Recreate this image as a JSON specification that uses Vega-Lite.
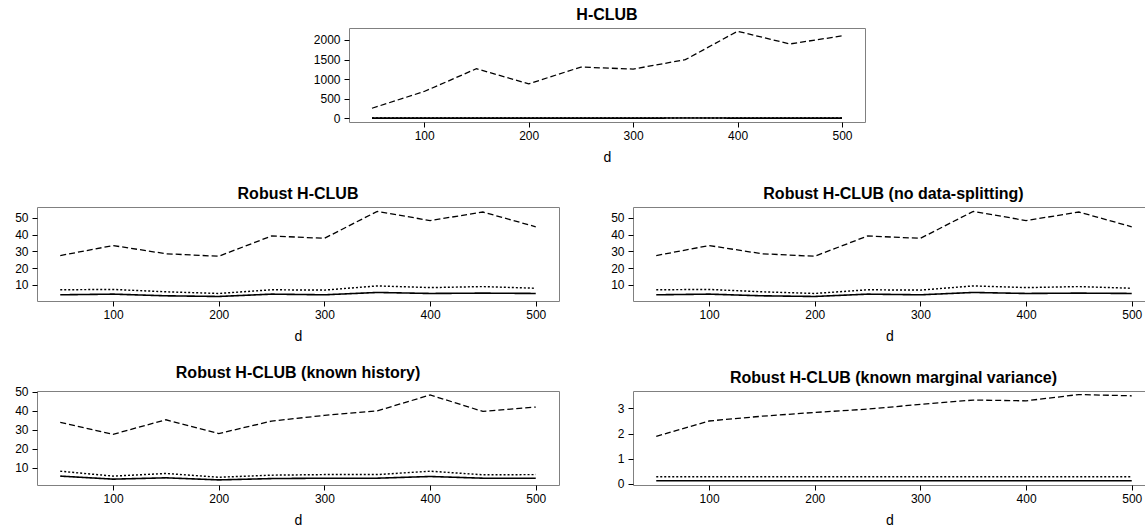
{
  "$schema": "https://vega.github.io/schema/vega-lite/v6.json",
  "padding": {"left": 0, "top": 6, "right": 0, "bottom": 0},
  "background": "white",
  "config": {
    "font": "Liberation Sans",
    "view": {"stroke": "#808080", "strokeWidth": 1},
    "axis": {"domain": false, "grid": false, "tickColor": "#000", "tickSize": 5, "labelFontSize": 12, "labelColor": "#000", "titleFontSize": 14, "titleFontWeight": "normal", "titleColor": "#000", "labelFont": "Liberation Sans", "titleFont": "Liberation Sans"},
    "axisX": {"labelPadding": 3, "titlePadding": 9},
    "axisY": {"labelPadding": 4, "minExtent": 36, "maxExtent": 36},
    "title": {"fontSize": 16, "fontWeight": "bold", "color": "#000", "offset": 5, "font": "Liberation Sans", "frame": "group"},
    "line": {"color": "#000"}
  },
  "datasets": {
    "hclub": [
      {"d": 50, "line": "dashed", "value": 256}, {"d": 100, "line": "dashed", "value": 684}, {"d": 150, "line": "dashed", "value": 1265}, {"d": 200, "line": "dashed", "value": 880}, {"d": 250, "line": "dashed", "value": 1308}, {"d": 300, "line": "dashed", "value": 1256}, {"d": 350, "line": "dashed", "value": 1496}, {"d": 400, "line": "dashed", "value": 2222}, {"d": 450, "line": "dashed", "value": 1897}, {"d": 500, "line": "dashed", "value": 2103},
      {"d": 50, "line": "dotted", "value": 8}, {"d": 100, "line": "dotted", "value": 8}, {"d": 150, "line": "dotted", "value": 7}, {"d": 200, "line": "dotted", "value": 6}, {"d": 250, "line": "dotted", "value": 8}, {"d": 300, "line": "dotted", "value": 8}, {"d": 350, "line": "dotted", "value": 10}, {"d": 400, "line": "dotted", "value": 9}, {"d": 450, "line": "dotted", "value": 10}, {"d": 500, "line": "dotted", "value": 9},
      {"d": 50, "line": "solid", "value": 4}, {"d": 100, "line": "solid", "value": 5}, {"d": 150, "line": "solid", "value": 4}, {"d": 200, "line": "solid", "value": 3}, {"d": 250, "line": "solid", "value": 5}, {"d": 300, "line": "solid", "value": 4}, {"d": 350, "line": "solid", "value": 6}, {"d": 400, "line": "solid", "value": 5}, {"d": 450, "line": "solid", "value": 5}, {"d": 500, "line": "solid", "value": 5}
    ],
    "robust": [
      {"d": 50, "line": "dashed", "value": 27.5}, {"d": 100, "line": "dashed", "value": 33.5}, {"d": 150, "line": "dashed", "value": 28.6}, {"d": 200, "line": "dashed", "value": 27.1}, {"d": 250, "line": "dashed", "value": 39.2}, {"d": 300, "line": "dashed", "value": 37.8}, {"d": 350, "line": "dashed", "value": 53.9}, {"d": 400, "line": "dashed", "value": 48.4}, {"d": 450, "line": "dashed", "value": 53.5}, {"d": 500, "line": "dashed", "value": 44.7},
      {"d": 50, "line": "dotted", "value": 7.1}, {"d": 100, "line": "dotted", "value": 7.3}, {"d": 150, "line": "dotted", "value": 5.9}, {"d": 200, "line": "dotted", "value": 4.9}, {"d": 250, "line": "dotted", "value": 7.1}, {"d": 300, "line": "dotted", "value": 6.9}, {"d": 350, "line": "dotted", "value": 9.4}, {"d": 400, "line": "dotted", "value": 8.4}, {"d": 450, "line": "dotted", "value": 9.0}, {"d": 500, "line": "dotted", "value": 8.0},
      {"d": 50, "line": "solid", "value": 4.1}, {"d": 100, "line": "solid", "value": 4.5}, {"d": 150, "line": "solid", "value": 3.5}, {"d": 200, "line": "solid", "value": 3.1}, {"d": 250, "line": "solid", "value": 4.5}, {"d": 300, "line": "solid", "value": 4.1}, {"d": 350, "line": "solid", "value": 5.5}, {"d": 400, "line": "solid", "value": 4.9}, {"d": 450, "line": "solid", "value": 5.1}, {"d": 500, "line": "solid", "value": 4.9}
    ],
    "nosplit": [
      {"d": 50, "line": "dashed", "value": 27.5}, {"d": 100, "line": "dashed", "value": 33.5}, {"d": 150, "line": "dashed", "value": 28.6}, {"d": 200, "line": "dashed", "value": 27.1}, {"d": 250, "line": "dashed", "value": 39.2}, {"d": 300, "line": "dashed", "value": 37.8}, {"d": 350, "line": "dashed", "value": 53.9}, {"d": 400, "line": "dashed", "value": 48.4}, {"d": 450, "line": "dashed", "value": 53.5}, {"d": 500, "line": "dashed", "value": 44.7},
      {"d": 50, "line": "dotted", "value": 7.1}, {"d": 100, "line": "dotted", "value": 7.3}, {"d": 150, "line": "dotted", "value": 5.9}, {"d": 200, "line": "dotted", "value": 4.9}, {"d": 250, "line": "dotted", "value": 7.1}, {"d": 300, "line": "dotted", "value": 6.9}, {"d": 350, "line": "dotted", "value": 9.4}, {"d": 400, "line": "dotted", "value": 8.4}, {"d": 450, "line": "dotted", "value": 9.0}, {"d": 500, "line": "dotted", "value": 8.0},
      {"d": 50, "line": "solid", "value": 4.1}, {"d": 100, "line": "solid", "value": 4.5}, {"d": 150, "line": "solid", "value": 3.5}, {"d": 200, "line": "solid", "value": 3.1}, {"d": 250, "line": "solid", "value": 4.5}, {"d": 300, "line": "solid", "value": 4.1}, {"d": 350, "line": "solid", "value": 5.5}, {"d": 400, "line": "solid", "value": 4.9}, {"d": 450, "line": "solid", "value": 5.1}, {"d": 500, "line": "solid", "value": 4.9}
    ],
    "history": [
      {"d": 50, "line": "dashed", "value": 33.9}, {"d": 100, "line": "dashed", "value": 27.6}, {"d": 150, "line": "dashed", "value": 35.3}, {"d": 200, "line": "dashed", "value": 28.0}, {"d": 250, "line": "dashed", "value": 34.6}, {"d": 300, "line": "dashed", "value": 37.6}, {"d": 350, "line": "dashed", "value": 40.0}, {"d": 400, "line": "dashed", "value": 48.4}, {"d": 450, "line": "dashed", "value": 39.7}, {"d": 500, "line": "dashed", "value": 42.0},
      {"d": 50, "line": "dotted", "value": 8.1}, {"d": 100, "line": "dotted", "value": 5.5}, {"d": 150, "line": "dotted", "value": 6.9}, {"d": 200, "line": "dotted", "value": 4.9}, {"d": 250, "line": "dotted", "value": 6.0}, {"d": 300, "line": "dotted", "value": 6.3}, {"d": 350, "line": "dotted", "value": 6.3}, {"d": 400, "line": "dotted", "value": 8.1}, {"d": 450, "line": "dotted", "value": 6.2}, {"d": 500, "line": "dotted", "value": 6.3},
      {"d": 50, "line": "solid", "value": 5.5}, {"d": 100, "line": "solid", "value": 3.9}, {"d": 150, "line": "solid", "value": 4.6}, {"d": 200, "line": "solid", "value": 3.5}, {"d": 250, "line": "solid", "value": 4.2}, {"d": 300, "line": "solid", "value": 4.4}, {"d": 350, "line": "solid", "value": 4.4}, {"d": 400, "line": "solid", "value": 5.3}, {"d": 450, "line": "solid", "value": 4.4}, {"d": 500, "line": "solid", "value": 4.4}
    ],
    "marginal": [
      {"d": 50, "line": "dashed", "value": 1.89}, {"d": 100, "line": "dashed", "value": 2.5}, {"d": 150, "line": "dashed", "value": 2.69}, {"d": 200, "line": "dashed", "value": 2.84}, {"d": 250, "line": "dashed", "value": 2.97}, {"d": 300, "line": "dashed", "value": 3.16}, {"d": 350, "line": "dashed", "value": 3.33}, {"d": 400, "line": "dashed", "value": 3.3}, {"d": 450, "line": "dashed", "value": 3.55}, {"d": 500, "line": "dashed", "value": 3.5},
      {"d": 50, "line": "dotted", "value": 0.29}, {"d": 100, "line": "dotted", "value": 0.29}, {"d": 150, "line": "dotted", "value": 0.29}, {"d": 200, "line": "dotted", "value": 0.29}, {"d": 250, "line": "dotted", "value": 0.29}, {"d": 300, "line": "dotted", "value": 0.29}, {"d": 350, "line": "dotted", "value": 0.29}, {"d": 400, "line": "dotted", "value": 0.29}, {"d": 450, "line": "dotted", "value": 0.29}, {"d": 500, "line": "dotted", "value": 0.29},
      {"d": 50, "line": "solid", "value": 0.13}, {"d": 100, "line": "solid", "value": 0.13}, {"d": 150, "line": "solid", "value": 0.13}, {"d": 200, "line": "solid", "value": 0.13}, {"d": 250, "line": "solid", "value": 0.13}, {"d": 300, "line": "solid", "value": 0.13}, {"d": 350, "line": "solid", "value": 0.13}, {"d": 400, "line": "solid", "value": 0.13}, {"d": 450, "line": "solid", "value": 0.13}, {"d": 500, "line": "solid", "value": 0.13}
    ]
  },
  "spacing": 20,
  "vconcat": [
    {
      "spacing": 0,
      "hconcat": [
        {
          "width": 275, "height": 94,
          "data": {"values": []},
          "mark": {"type": "point", "opacity": 0},
          "view": {"stroke": null}
        },
        {
          "title": "H-CLUB",
          "width": 516, "height": 94,
          "data": {"name": "hclub"},
          "mark": {"type": "line"},
          "encoding": {
            "x": {"field": "d", "type": "quantitative", "scale": {"domain": [28, 522], "nice": false, "zero": false}, "axis": {"title": "d", "values": [100, 200, 300, 400, 500]}},
            "y": {"field": "value", "type": "quantitative", "scale": {"domain": [-95, 2305], "nice": false, "zero": false}, "axis": {"title": null, "format": "d", "values": [0, 500, 1000, 1500, 2000]}},
            "strokeDash": {"field": "line", "type": "nominal", "scale": {"domain": ["solid", "dotted", "dashed"], "range": [[1, 0], [2, 2], [6, 3]]}, "legend": null},
            "strokeWidth": {"field": "line", "type": "nominal", "scale": {"domain": ["solid", "dotted", "dashed"], "range": [1.6, 1.3, 1.2]}, "legend": null}
          }
        }
      ]
    },
    {
      "spacing": 36,
      "hconcat": [
        {
          "title": "Robust H-CLUB",
          "width": 522, "height": 94,
          "data": {"name": "robust"},
          "mark": {"type": "line"},
          "encoding": {
            "x": {"field": "d", "type": "quantitative", "scale": {"domain": [28, 522], "nice": false, "zero": false}, "axis": {"title": "d", "values": [100, 200, 300, 400, 500]}},
            "y": {"field": "value", "type": "quantitative", "scale": {"domain": [0.4, 56.5], "nice": false, "zero": false}, "axis": {"title": null, "values": [10, 20, 30, 40, 50]}},
            "strokeDash": {"field": "line", "type": "nominal", "scale": {"domain": ["solid", "dotted", "dashed"], "range": [[1, 0], [2, 2], [6, 3]]}, "legend": null},
            "strokeWidth": {"field": "line", "type": "nominal", "scale": {"domain": ["solid", "dotted", "dashed"], "range": [1.6, 1.3, 1.2]}, "legend": null}
          }
        },
        {
          "title": {"text": "Robust H-CLUB (no data-splitting)", "dx": 4},
          "width": 513, "height": 94,
          "data": {"name": "nosplit"},
          "mark": {"type": "line"},
          "encoding": {
            "x": {"field": "d", "type": "quantitative", "scale": {"domain": [28, 513.5], "nice": false, "zero": false}, "axis": {"title": "d", "values": [100, 200, 300, 400, 500]}},
            "y": {"field": "value", "type": "quantitative", "scale": {"domain": [0.4, 56.5], "nice": false, "zero": false}, "axis": {"title": null, "values": [10, 20, 30, 40, 50]}},
            "strokeDash": {"field": "line", "type": "nominal", "scale": {"domain": ["solid", "dotted", "dashed"], "range": [[1, 0], [2, 2], [6, 3]]}, "legend": null},
            "strokeWidth": {"field": "line", "type": "nominal", "scale": {"domain": ["solid", "dotted", "dashed"], "range": [1.6, 1.3, 1.2]}, "legend": null}
          }
        }
      ]
    },
    {
      "spacing": 36,
      "hconcat": [
        {
          "title": "Robust H-CLUB (known history)",
          "width": 522, "height": 94,
          "data": {"name": "history"},
          "mark": {"type": "line"},
          "encoding": {
            "x": {"field": "d", "type": "quantitative", "scale": {"domain": [28, 522], "nice": false, "zero": false}, "axis": {"title": "d", "values": [100, 200, 300, 400, 500]}},
            "y": {"field": "value", "type": "quantitative", "scale": {"domain": [0.8, 50.5], "nice": false, "zero": false}, "axis": {"title": null, "values": [10, 20, 30, 40, 50]}},
            "strokeDash": {"field": "line", "type": "nominal", "scale": {"domain": ["solid", "dotted", "dashed"], "range": [[1, 0], [2, 2], [6, 3]]}, "legend": null},
            "strokeWidth": {"field": "line", "type": "nominal", "scale": {"domain": ["solid", "dotted", "dashed"], "range": [1.6, 1.3, 1.2]}, "legend": null}
          }
        },
        {
          "title": {"text": "Robust H-CLUB (known marginal variance)", "dx": 4},
          "width": 513, "height": 94,
          "data": {"name": "marginal"},
          "mark": {"type": "line"},
          "encoding": {
            "x": {"field": "d", "type": "quantitative", "scale": {"domain": [28, 513.5], "nice": false, "zero": false}, "axis": {"title": "d", "values": [100, 200, 300, 400, 500]}},
            "y": {"field": "value", "type": "quantitative", "scale": {"domain": [-0.04, 3.69], "nice": false, "zero": false}, "axis": {"title": null, "values": [0, 1, 2, 3]}},
            "strokeDash": {"field": "line", "type": "nominal", "scale": {"domain": ["solid", "dotted", "dashed"], "range": [[1, 0], [2, 2], [6, 3]]}, "legend": null},
            "strokeWidth": {"field": "line", "type": "nominal", "scale": {"domain": ["solid", "dotted", "dashed"], "range": [1.6, 1.3, 1.2]}, "legend": null}
          }
        }
      ]
    }
  ]
}
